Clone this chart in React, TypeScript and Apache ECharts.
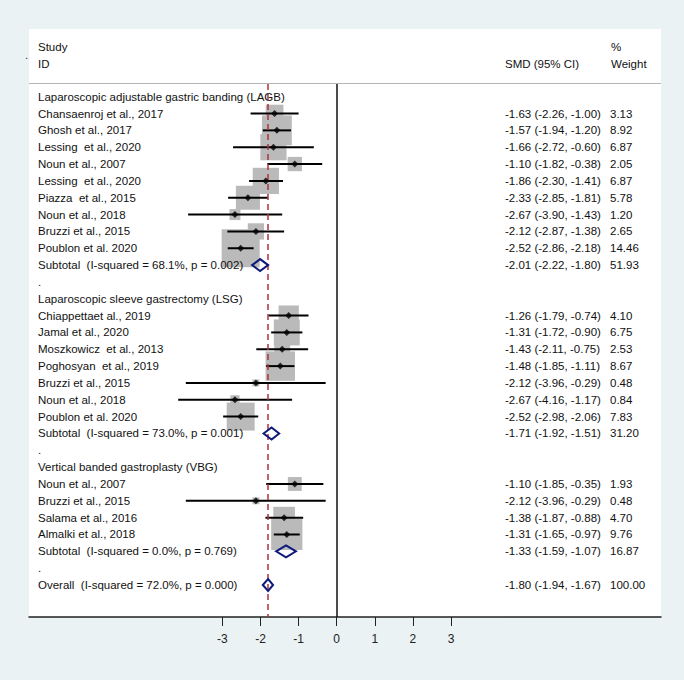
import React, { useEffect, useRef } from "react";
import * as echarts from "echarts";

// ---------- data ----------
const groupTitles = [
  "Laparoscopic adjustable gastric banding (LAGB)",
  "Laparoscopic sleeve gastrectomy (LSG)",
  "Vertical banded gastroplasty (VBG)",
];
const groupSizes = [9, 7, 4];

const studyNames = [
  "Chansaenroj et al., 2017",
  "Ghosh et al., 2017",
  "Lessing  et al., 2020",
  "Noun et al., 2007",
  "Lessing  et al., 2020",
  "Piazza  et al., 2015",
  "Noun et al., 2018",
  "Bruzzi et al., 2015",
  "Poublon et al. 2020",
  "Chiappettaet al., 2019",
  "Jamal et al., 2020",
  "Moszkowicz  et al., 2013",
  "Poghosyan  et al., 2019",
  "Bruzzi et al., 2015",
  "Noun et al., 2018",
  "Poublon et al. 2020",
  "Noun et al., 2007",
  "Bruzzi et al., 2015",
  "Salama et al., 2016",
  "Almalki et al., 2018",
];
const studySMD = [
  -1.63, -1.57, -1.66, -1.1, -1.86, -2.33, -2.67, -2.12, -2.52,
  -1.26, -1.31, -1.43, -1.48, -2.12, -2.67, -2.52,
  -1.1, -2.12, -1.38, -1.31,
];
const studyLow = [
  -2.26, -1.94, -2.72, -1.82, -2.3, -2.85, -3.9, -2.87, -2.86,
  -1.79, -1.72, -2.11, -1.85, -3.96, -4.16, -2.98,
  -1.85, -3.96, -1.87, -1.65,
];
const studyHigh = [
  -1.0, -1.2, -0.6, -0.38, -1.41, -1.81, -1.43, -1.38, -2.18,
  -0.74, -0.9, -0.75, -1.11, -0.29, -1.17, -2.06,
  -0.35, -0.29, -0.88, -0.97,
];
const studyWeight = [
  3.13, 8.92, 6.87, 2.05, 6.87, 5.78, 1.2, 2.65, 14.46,
  4.1, 6.75, 2.53, 8.67, 0.48, 0.84, 7.83,
  1.93, 0.48, 4.7, 9.76,
];

const subtotalLabels = [
  "Subtotal  (I-squared = 68.1%, p = 0.002)",
  "Subtotal  (I-squared = 73.0%, p = 0.001)",
  "Subtotal  (I-squared = 0.0%, p = 0.769)",
];
const subtotalSMD = [-2.01, -1.71, -1.33];
const subtotalLow = [-2.22, -1.92, -1.59];
const subtotalHigh = [-1.8, -1.51, -1.07];
const subtotalWeight = [51.93, 31.2, 16.87];

const overallLabel = "Overall  (I-squared = 72.0%, p = 0.000)";
const overallSMD = -1.8;
const overallLow = -1.94;
const overallHigh = -1.67;
const overallWeight = 100.0;

const tickValues = [-3, -2, -1, 0, 1, 2, 3];

// ---------- build rows ----------
type Row = { label: string; ci: string; weight: string };
const rows: Row[] = [];
const studyPts: number[][] = [];
const diamondPts: number[][] = [];
const fmtCI = (e: number, l: number, h: number) =>
  `${e.toFixed(2)} (${l.toFixed(2)}, ${h.toFixed(2)})`;

let si = 0;
groupTitles.forEach((title, g) => {
  rows.push({ label: title, ci: "", weight: "" });
  for (let k = 0; k < groupSizes[g]; k++, si++) {
    studyPts.push([studySMD[si], rows.length, studyWeight[si], studyLow[si], studyHigh[si]]);
    rows.push({
      label: studyNames[si],
      ci: fmtCI(studySMD[si], studyLow[si], studyHigh[si]),
      weight: studyWeight[si].toFixed(2),
    });
  }
  diamondPts.push([subtotalSMD[g], rows.length, subtotalLow[g], subtotalHigh[g]]);
  rows.push({
    label: subtotalLabels[g],
    ci: fmtCI(subtotalSMD[g], subtotalLow[g], subtotalHigh[g]),
    weight: subtotalWeight[g].toFixed(2),
  });
  rows.push({ label: ".", ci: "", weight: "" });
});
diamondPts.push([overallSMD, rows.length, overallLow, overallHigh]);
rows.push({
  label: overallLabel,
  ci: fmtCI(overallSMD, overallLow, overallHigh),
  weight: overallWeight.toFixed(2),
});

const FONT = "'Liberation Sans', Arial, Helvetica, sans-serif";
const FS = 11.5;

export default function App() {
  const ref = useRef<HTMLDivElement>(null);
  useEffect(() => {
    if (!ref.current) return;
    const chart = echarts.init(ref.current, undefined, { renderer: "svg" });
    const option: any = {
      animation: false,
      backgroundColor: "#eaf2f3",
      textStyle: { fontFamily: FONT },
      graphic: [
        {
          type: "rect",
          z: -10,
          shape: { x: 29, y: 29, width: 632, height: 588 },
          style: { fill: "#ffffff" },
          silent: true,
        },
        {
          type: "line",
          z: -9,
          shape: { x1: 29, y1: 83.5, x2: 661, y2: 83.5 },
          style: { stroke: "#b4b4b4", lineWidth: 1 },
          silent: true,
        },
        { type: "text", x: 25, y: 49, style: { text: ".", fill: "#333", font: `${FS}px ${FONT}` } },
        { type: "text", x: 38, y: 47, style: { text: "Study", fill: "#111", font: `${FS}px ${FONT}`, verticalAlign: "middle" } },
        { type: "text", x: 38, y: 64, style: { text: "ID", fill: "#111", font: `${FS}px ${FONT}`, verticalAlign: "middle" } },
        { type: "text", x: 505, y: 64, style: { text: "SMD (95% CI)", fill: "#111", font: `${FS}px ${FONT}`, verticalAlign: "middle" } },
        { type: "text", x: 611, y: 47, style: { text: "%", fill: "#111", font: `${FS}px ${FONT}`, verticalAlign: "middle" } },
        { type: "text", x: 611, y: 64, style: { text: "Weight", fill: "#111", font: `${FS}px ${FONT}`, verticalAlign: "middle" } },
      ],
      grid: { left: 29, right: 23, top: 84, bottom: 63 },
      xAxis: {
        type: "value",
        min: -8.076,
        max: 8.512,
        axisLine: { show: true, onZero: false, lineStyle: { color: "#222", width: 1.5 } },
        axisTick: { show: true, customValues: tickValues, length: 9, lineStyle: { color: "#222", width: 1 } },
        axisLabel: { show: true, customValues: tickValues, margin: 16, fontSize: 12, color: "#222", fontFamily: FONT },
        splitLine: { show: false },
      },
      yAxis: {
        type: "value",
        inverse: true,
        min: -0.754,
        max: 30.9,
        show: false,
      },
      series: [
        {
          type: "custom",
          name: "boxes",
          z: 2,
          data: studyPts,
          renderItem: (params: any, api: any) => {
            const c = api.coord([api.value(0), api.value(1)]);
            const s = 10 * Math.sqrt(api.value(2));
            return {
              type: "rect",
              shape: { x: c[0] - s / 2, y: c[1] - s / 2, width: s, height: s },
              style: { fill: "#bababa" },
            };
          },
        },
        {
          type: "custom",
          name: "ci",
          z: 3,
          data: studyPts,
          renderItem: (params: any, api: any) => {
            const a = api.coord([api.value(3), api.value(1)]);
            const b = api.coord([api.value(4), api.value(1)]);
            return {
              type: "line",
              shape: { x1: a[0], y1: a[1], x2: b[0], y2: b[1] },
              style: { stroke: "#000", lineWidth: 2 },
            };
          },
        },
        {
          type: "scatter",
          name: "points",
          z: 5,
          symbol: "diamond",
          symbolSize: 7,
          itemStyle: { color: "#000" },
          data: studyPts.map((p) => [p[0], p[1]]),
          markLine: {
            silent: true,
            symbol: ["none", "none"],
            label: { show: false },
            data: [
              { xAxis: 0, lineStyle: { color: "#111", width: 1.5, type: "solid" } },
              { xAxis: overallSMD, lineStyle: { color: "#b0303a", width: 1.5, type: [6, 4] } },
            ],
          },
        },
        {
          type: "custom",
          name: "diamonds",
          z: 6,
          data: diamondPts,
          renderItem: (params: any, api: any) => {
            const c = api.coord([api.value(0), api.value(1)]);
            const l = api.coord([api.value(2), api.value(1)]);
            const r = api.coord([api.value(3), api.value(1)]);
            const h = 6;
            return {
              type: "polygon",
              shape: { points: [[l[0], c[1]], [c[0], c[1] - h], [r[0], c[1]], [c[0], c[1] + h]] },
              style: { fill: "none", stroke: "#0d1a7a", lineWidth: 2 },
            };
          },
        },
        {
          type: "custom",
          name: "texts",
          z: 7,
          data: rows.map((_, i) => [0, i]),
          renderItem: (params: any, api: any) => {
            const y = api.coord([0, api.value(1)])[1];
            const row = rows[params.dataIndex];
            const mk = (x: number, text: string) => ({
              type: "text",
              x,
              y,
              style: { text, fill: "#111", font: `${FS}px ${FONT}`, verticalAlign: "middle", align: "left" },
            });
            return {
              type: "group",
              children: [mk(38, row.label), mk(505, row.ci), mk(610, row.weight)],
            };
          },
        },
      ],
    };
    chart.setOption(option);
    return () => chart.dispose();
  }, []);
  return (
    <div
      ref={ref}
      style={{ position: "absolute", left: 0, top: 0, width: 684, height: 680 }}
    />
  );
}
